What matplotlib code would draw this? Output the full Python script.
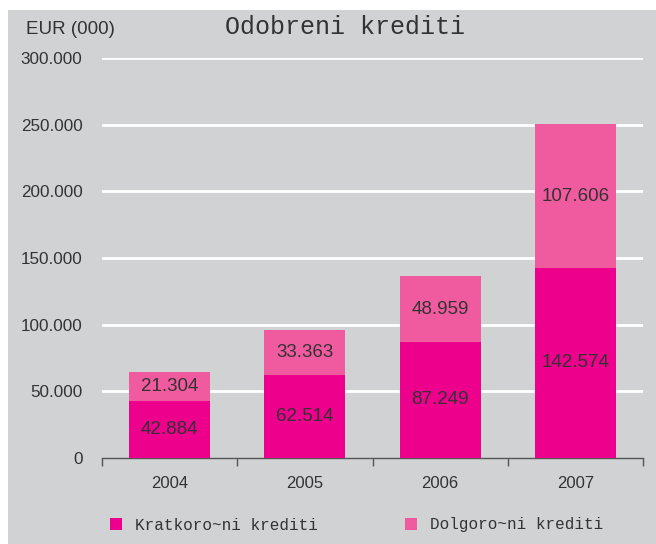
import matplotlib
matplotlib.use("Agg")
import matplotlib.pyplot as plt
from matplotlib.patches import Rectangle, Patch
import numpy as np

years = ["2004", "2005", "2006", "2007"]
short_term = [42884, 62514, 87249, 142574]
long_term = [21304, 33363, 48959, 107606]
series_names = ["Kratkoro~ni krediti", "Dolgoro~ni krediti"]
title = "Odobreni krediti"
unit = "EUR (000)"
yticks = [0, 50000, 100000, 150000, 200000, 250000, 300000]

c_short = "#EC008C"
c_long = "#F05A9F"
bg = "#D1D2D4"
txt = "#333333"

W, H = 656, 544
fig = plt.figure(figsize=(W / 100, H / 100), dpi=100)
fig.patch.set_facecolor("white")
fig.add_artist(Rectangle((8 / W, 0), 1 - 8 / W, 1 - 10 / H, transform=fig.transFigure,
                         facecolor=bg, edgecolor="none", zorder=0))

ax = fig.add_axes([102 / W, 1 - 458 / H, (643 - 102) / W, (458 - 58) / H])
ax.set_facecolor("none")
x = np.arange(len(years))
b1 = ax.bar(x, short_term, width=0.6, color=c_short, zorder=3)
b2 = ax.bar(x, long_term, width=0.6, bottom=short_term, color=c_long, zorder=3)

def fmt(v):
    return f"{v:,}".replace(",", ".")

for i in range(len(years)):
    ax.text(x[i], short_term[i] / 2, fmt(short_term[i]), ha="center", va="center",
            fontsize=13.5, color=txt, family="Liberation Sans", zorder=4)
    ax.text(x[i], short_term[i] + long_term[i] / 2, fmt(long_term[i]), ha="center", va="center",
            fontsize=13.5, color=txt, family="Liberation Sans", zorder=4)

ax.set_xlim(-0.5, len(years) - 0.5)
ax.set_ylim(0, 300000)
for yv in yticks[1:]:
    ax.axhline(yv, color="white", lw=2, zorder=1)

ax.set_yticks(yticks)
ax.set_yticklabels([fmt(v) for v in yticks], fontsize=12.3, color=txt, family="Liberation Sans")
ax.tick_params(axis="y", length=0, pad=14)

ax.set_xticks(np.arange(-0.5, len(years), 1.0))
ax.set_xticklabels([])
ax.set_xticks(x, minor=True)
ax.set_xticklabels(years, minor=True, fontsize=12, color=txt, family="Liberation Sans")
ax.tick_params(axis="x", which="major", length=6, width=1, color="#555555", direction="out")
ax.tick_params(axis="x", which="minor", length=0, pad=13)

for s in ["top", "right", "left"]:
    ax.spines[s].set_visible(False)
ax.spines["bottom"].set_color("#555555")
ax.spines["bottom"].set_linewidth(1.0)

fig.text(26 / W, 1 - 29 / H, unit, fontsize=13.5, color=txt, family="Liberation Sans",
         ha="left", va="center")
fig.text(345 / W, 1 - 27 / H, title, fontsize=18, color=txt, family="Liberation Mono",
         ha="center", va="center")

handles = [Patch(facecolor=c_short, edgecolor="none"), Patch(facecolor=c_long, edgecolor="none")]
fig.legend(handles, series_names, loc="center left", bbox_to_anchor=(110 / W, 1 - 525 / H),
           ncol=2, frameon=False, prop={"family": "Liberation Mono", "size": 11.5},
           handlelength=0.75, handleheight=0.75, handletextpad=0.8, columnspacing=5.5,
           borderpad=0, borderaxespad=0, labelcolor=txt)

fig.savefig("out.png", dpi=100)
